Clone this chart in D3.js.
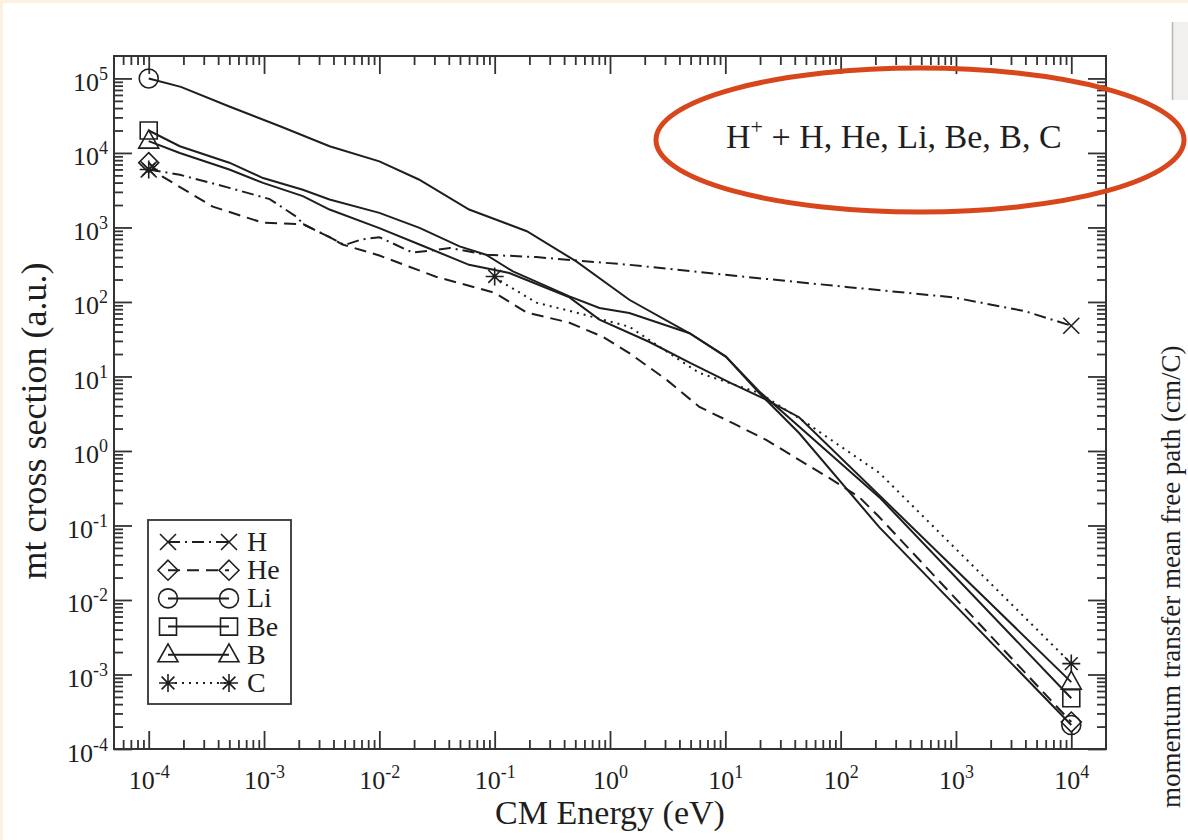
<!DOCTYPE html>
<html><head><meta charset="utf-8">
<script src="https://cdn.jsdelivr.net/npm/d3@7"></script>
<style>
body{margin:0;background:#fbf2de;overflow:hidden;}
svg{display:block;}
text{font-family:"Liberation Serif","Times New Roman",serif;fill:#1e1e1e;}
</style>
</head><body>
<svg id="chart" width="1188" height="840"></svg>
<script>
// ---------------- data ----------------
const seriesNames = ["H", "He", "Li", "Be", "B", "C"];
const xTickExponents = [-4, -3, -2, -1, 0, 1, 2, 3, 4];
const yTickExponents = [-4, -3, -2, -1, 0, 1, 2, 3, 4, 5];
const titleText = "H";
const titleSup = "+";
const titleRest = " + H, He, Li, Be, B, C";
const xTitle = "CM Energy (eV)";
const yTitle = "mt cross section (a.u.)";
const rightTitle = "momentum transfer mean free path (cm/C)";

// [energy (eV), cross section (a.u.)]
const H = [[1e-4,6000],[1.86e-4,5100],[5e-4,3400],[1.12e-3,2400],[1.9e-3,1400],[2.2e-3,1100],
  [3.7e-3,740],[5e-3,580],[7e-3,690],[1e-2,740],[1.94e-2,460],[2.8e-2,490],[4.1e-2,530],
  [8.5e-2,430],[0.23,400],[1.47,315],[14.6,218],[117,158],[960,115],[4000,75],[1e4,48]];
const He = [[1e-4,7400],[1.32e-4,4800],[3.6e-4,1900],[9.7e-4,1160],[2.2e-3,1100],[3.7e-3,740],
  [4.8e-3,590],[1e-2,420],[3.1e-2,218],[0.1,133],[0.19,72],[0.44,53],[0.87,34],[1.47,20.6],
  [3.1,9.0],[5.96,3.9],[11.5,2.38],[22.6,1.41],[43.6,0.76],[84.5,0.41],[145,0.24],[216,0.13],[1e4,2.3e-4]];
const Li = [[1e-4,1e5],[1.9e-4,7.7e4],[5e-4,4.2e4],[1.36e-3,2.3e4],[3.7e-3,1.23e4],[1e-2,7.7e3],
  [2.2e-2,4.4e3],[6e-2,1740],[0.19,890],[0.51,350],[1.47,107],[4.9,38],[10.1,18.5],[19.7,6],
  [43.6,1.74],[216,0.095],[1e4,2.1e-4]];
const Be = [[1e-4,2e4],[1.86e-4,1.23e4],[5e-4,7.4e3],[9.8e-4,4.6e3],[2.17e-3,3.2e3],[3.7e-3,2.37e3],
  [1e-2,1570],[2.23e-2,985],[4.96e-2,557],[8.4e-2,430],[0.144,257],[0.445,119],[0.81,83],[1.47,71],
  [4.9,38],[10.1,18.5],[19.7,6.3],[216,0.24],[1e4,4.8e-4]];
const B = [[1e-4,1.44e4],[1.86e-4,1e4],[5e-4,6e3],[9.8e-4,3.96e3],[2.17e-3,2.63e3],[3.7e-3,1.74e3],
  [1e-2,980],[2.23e-2,590],[6e-2,315],[0.134,245],[0.445,115],[0.81,58],[2.2,29],[4.9,15.3],
  [11.3,8.1],[22.5,4.9],[43.6,2.84],[1e4,7.9e-4]];
const C = [[1e-4,6000],[null,null],[0.1,220],[0.117,183],[0.23,98],[0.51,72],[1.47,46.5],[5.9,11.2],
  [19.7,6.0],[50,2.4],[216,0.51],[1e4,1.4e-3]];

// markers drawn at these energies for each series
const markerEnergies = {H:[1e-4,1e4], He:[1e-4,1e4], Li:[1e-4,1e4], Be:[1e-4,1e4], B:[1e-4,1e4], C:[1e-4,0.1,1e4]};

// ---------------- drawing ----------------
const data = {H, He, Li, Be, B, C};
const styles = {
  H:  {dash:"12,5,2,5", sym:"times"},
  He: {dash:"12,7", sym:"diamond"},
  Li: {dash:null, sym:"circle"},
  Be: {dash:null, sym:"square"},
  B:  {dash:null, sym:"triangle"},
  C:  {dash:"2,5", sym:"asterisk"}
};
const ink = "#1e1e1e";
const svg = d3.select("#chart");

// page: white sheet over cream slide
svg.append("rect").attr("x",3).attr("y",3).attr("width",1185).attr("height",837).attr("fill","#ffffff");
svg.append("rect").attr("x",1172).attr("y",22).attr("width",16).attr("height",78).attr("fill","#f1f0ee");
svg.append("line").attr("x1",1172.5).attr("x2",1172.5).attr("y1",22).attr("y2",100).attr("stroke","#b9b6b0").attr("stroke-width",1.5);

const L = 114, R = 1106, T = 56, Bm = 749;
const x = d3.scaleLog().domain([5e-5, 2e4]).range([L, R]);
const y = d3.scaleLog().domain([1e-4, 2e5]).range([Bm, T]);

function minorTicks(dom){
  const out=[];
  for(let e=-6;e<=6;e++) for(let k=2;k<=9;k++){const v=k*Math.pow(10,e); if(v>dom[0]*1.0001 && v<dom[1]*0.9999) out.push(v);}
  return out;
}
const xMajor = xTickExponents.map(e=>Math.pow(10,e));
const yMajor = yTickExponents.map(e=>Math.pow(10,e));

function styleAxis(g){
  g.select(".domain").remove();
  g.selectAll(".tick line").attr("stroke","#333").attr("stroke-width",1.8);
}
function supLabels(sel, anchor){
  sel.selectAll(".tick text").each(function(d){
    const t=d3.select(this); t.text(null);
    const e=Math.round(Math.log10(d));
    t.attr("font-size","26px").attr("text-anchor",anchor).attr("fill",ink);
    t.append("tspan").text("10");
    t.append("tspan").attr("dy","-11").attr("font-size","18px").text(e);
  });
}
// bottom
const gb = svg.append("g").attr("transform",`translate(0,${Bm})`)
  .call(d3.axisBottom(x).tickValues(xMajor).tickSizeInner(-18).tickSizeOuter(0).tickPadding(40));
styleAxis(gb);
gb.selectAll(".tick text").attr("dy","0");
supLabels(gb,"middle");
styleAxis(svg.append("g").attr("transform",`translate(0,${Bm})`)
  .call(d3.axisBottom(x).tickValues(minorTicks(x.domain())).tickSizeInner(-9).tickSizeOuter(0).tickFormat("")));
// top
styleAxis(svg.append("g").attr("transform",`translate(0,${T})`)
  .call(d3.axisTop(x).tickValues(xMajor).tickSizeInner(-18).tickSizeOuter(0).tickFormat("")));
styleAxis(svg.append("g").attr("transform",`translate(0,${T})`)
  .call(d3.axisTop(x).tickValues(minorTicks(x.domain())).tickSizeInner(-9).tickSizeOuter(0).tickFormat("")));
// left
const gl = svg.append("g").attr("transform",`translate(${L},0)`)
  .call(d3.axisLeft(y).tickValues(yMajor).tickSizeInner(-18).tickSizeOuter(0).tickPadding(6));
styleAxis(gl);
gl.selectAll(".tick text").attr("dy","12");
supLabels(gl,"end");
styleAxis(svg.append("g").attr("transform",`translate(${L},0)`)
  .call(d3.axisLeft(y).tickValues(minorTicks(y.domain())).tickSizeInner(-9).tickSizeOuter(0).tickFormat("")));
// right
styleAxis(svg.append("g").attr("transform",`translate(${R},0)`)
  .call(d3.axisRight(y).tickValues(yMajor).tickSizeInner(-18).tickSizeOuter(0).tickFormat("")));
styleAxis(svg.append("g").attr("transform",`translate(${R},0)`)
  .call(d3.axisRight(y).tickValues(minorTicks(y.domain())).tickSizeInner(-9).tickSizeOuter(0).tickFormat("")));

// frame
svg.append("rect").attr("x",L).attr("y",T).attr("width",R-L).attr("height",Bm-T)
  .attr("fill","none").attr("stroke","#333").attr("stroke-width",2);

// symbols
function symPath(kind){
  switch(kind){
    case "circle": return "M9.5,0A9.5,9.5 0 1,1 -9.5,0A9.5,9.5 0 1,1 9.5,0Z";
    case "square": return "M-8.5,-8.5H8.5V8.5H-8.5Z";
    case "triangle": return "M0,-11L10,7L-10,7Z";
    case "diamond": return "M0,-10L10,0L0,10L-10,0Z";
    case "times": return "M-8,-8L8,8M-8,8L8,-8";
    case "asterisk": return "M-9,0H9M0,-9V9M-6.4,-6.4L6.4,6.4M-6.4,6.4L6.4,-6.4";
  }
}
const line = d3.line().defined(d=>d[1]!=null).x(d=>x(d[0])).y(d=>y(d[1]));
const plot = svg.append("g");
seriesNames.forEach(n=>{
  const s=styles[n];
  plot.append("path").datum(data[n]).attr("d",line).attr("fill","none")
    .attr("stroke",ink).attr("stroke-width",2).attr("stroke-dasharray",s.dash);
});
seriesNames.forEach(n=>{
  const s=styles[n];
  const pts=data[n].filter(d=>d[1]!=null && markerEnergies[n].includes(d[0]));
  plot.selectAll(null).data(pts).enter().append("path")
    .attr("transform",d=>`translate(${x(d[0])},${y(d[1])})`)
    .attr("d",symPath(s.sym)).attr("fill","none").attr("stroke",ink).attr("stroke-width",1.6);
});

// legend
const lg = svg.append("g");
lg.append("rect").attr("x",148).attr("y",520).attr("width",143).attr("height",184)
  .attr("fill","#fff").attr("stroke","#333").attr("stroke-width",1.8);
const ly = d3.scalePoint().domain(seriesNames).range([542,683]);
seriesNames.forEach(n=>{
  const s=styles[n], yy=ly(n);
  lg.append("line").attr("x1",168).attr("x2",229).attr("y1",yy).attr("y2",yy)
    .attr("stroke",ink).attr("stroke-width",2).attr("stroke-dasharray",s.dash);
  [168,229].forEach(xx=>lg.append("path").attr("transform",`translate(${xx},${yy})`)
    .attr("d",symPath(s.sym)).attr("fill","none").attr("stroke",ink).attr("stroke-width",1.6));
  lg.append("text").attr("x",247).attr("y",yy+9).attr("font-size","28px").text(n);
});

// titles
svg.append("text").attr("x",(L+R)/2).attr("y",824).attr("text-anchor","middle").attr("font-size","34px").text(xTitle);
svg.append("text").attr("transform","translate(46,421) rotate(-90)").attr("text-anchor","middle").attr("font-size","36px").text(yTitle);
const tt = svg.append("text").attr("x",726).attr("y",148).attr("font-size","34px");
tt.append("tspan").text(titleText);
tt.append("tspan").attr("dy","-14").attr("font-size","22px").text(titleSup);
tt.append("tspan").attr("dy","14").text(titleRest);
svg.append("ellipse").attr("cx",920).attr("cy",140).attr("rx",264).attr("ry",72)
  .attr("fill","none").attr("stroke","#d8461c").attr("stroke-width",5);
svg.append("text").attr("transform","translate(1180,808) rotate(-90)").attr("font-size","27px").text(rightTitle);
</script>
</body></html>
